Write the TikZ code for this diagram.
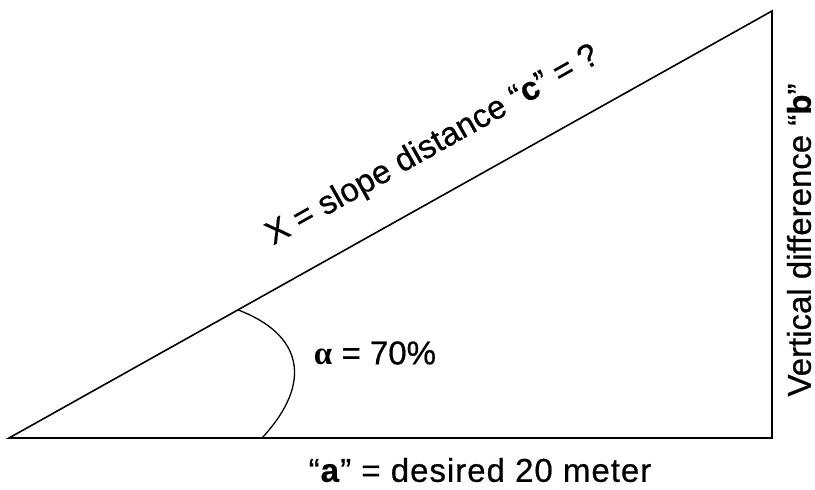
\documentclass[tikz,border=0pt]{standalone}
\usepackage{fontspec}
\setmainfont{Liberation Sans}
\newfontfamily\greekserif{Liberation Serif}
\usetikzlibrary{positioning,calc}

\begin{document}
\begin{tikzpicture}[x=1pt,y=1pt,
    side/.style={line width=1.6pt,line join=miter},
    lbl/.style={font=\fontsize{33}{33}\selectfont\addfontfeature{FakeBold=0.6},inner sep=0pt}]
\useasboundingbox (0,0) rectangle (815,490);
% corners of the triangle
\coordinate (A) at (9,52);
\coordinate (B) at (772,52);
\coordinate (C) at (772,479);
\draw[side] (A) -- (B) -- (C) -- cycle;
% angle mark
\coordinate (P) at ($(A)!0.3!(C)$);
\coordinate (Q) at (262,52);
\draw[line width=1.3pt] (P) .. controls (302,156) and (314,108) .. (Q);
\begin{scope}[every node/.style={lbl}]
    \node (alpha) at (375,137) {{\greekserif\bfseries α} = 70\%};
    \node[rotate=29.3] (hyp) at (433,344) {X = slope distance “\textbf{c}” = ?};
    \node (base) at (480,20) {\addfontfeature{LetterSpace=3}“\textbf{a}” = desired 20 meter};
    \node[rotate=90] (vert) at (799,250) {Vertical difference “\textbf{b}”};
\end{scope}
\end{tikzpicture}
\end{document}
